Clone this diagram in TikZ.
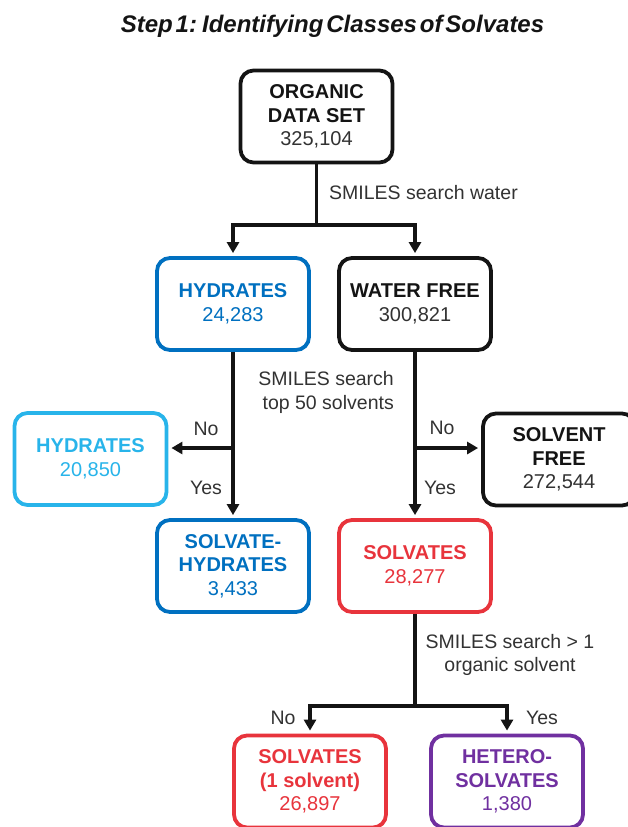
\documentclass[tikz,border=0pt]{standalone}
\usepackage{fontspec}
\setmainfont{Liberation Sans}
\usetikzlibrary{arrows.meta}
\definecolor{blueD}{RGB}{0,112,192}
\definecolor{blueL}{RGB}{40,180,234}
\definecolor{redC}{RGB}{232,52,60}
\definecolor{purp}{RGB}{112,48,160}
\definecolor{inkC}{RGB}{20,20,20}
\definecolor{numC}{RGB}{50,50,50}
\begin{document}
\begin{tikzpicture}[x=1pt,y=-1pt,
  box/.style={draw, rounded corners=13pt, line width=3.8pt, fill=white,
    minimum width=152pt, minimum height=92pt, align=center, inner sep=0pt,
    font=\fontsize{20}{23.5}\selectfont},
  conn/.style={line width=3.6pt, draw=inkC},
  arr/.style={conn, shorten >=3pt, -{Triangle[length=11pt,width=12pt]}},
  lbl/.style={font=\fontsize{19.5}{23.5}\selectfont, text=numC, inner sep=0pt}]
\useasboundingbox (0,0) rectangle (628,827);
\clip (0,0) rectangle (628,827);

\node[font=\fontsize{24}{28}\selectfont\bfseries\itshape, text=inkC, anchor=base] (title) at (332.5,32)
  {{\spaceskip=.12em Step 1: Identifying Classes of Solvates}};

\node[box, draw=inkC] (org) at (316.5,116.5) {\textbf{\color{inkC}ORGANIC}\\\textbf{\color{inkC}DATA SET}\\\color{numC}325,104};
\node[box, draw=blueD, text=blueD] (hyd) at (233,304) {\textbf{HYDRATES}\\24,283};
\node[box, draw=inkC] (wf) at (415,304) {\textbf{\color{inkC}WATER FREE}\\\color{numC}300,821};
\node[box, draw=blueL, text=blueL] (hyd2) at (90.5,459) {\textbf{HYDRATES}\\20,850};
\node[box, draw=inkC] (sf) at (559,459.5) {\textbf{\color{inkC}SOLVENT}\\\textbf{\color{inkC}FREE}\\\color{numC}272,544};
\node[box, draw=blueD, text=blueD] (sh) at (233,566) {\textbf{SOLVATE-}\\\textbf{HYDRATES}\\3,433};
\node[box, draw=redC, text=redC] (solv) at (415,566) {\textbf{SOLVATES}\\28,277};
\node[box, draw=redC, text=redC] (s1) at (310,781.5) {\textbf{SOLVATES}\\\textbf{(1 solvent)}\\26,897};
\node[box, draw=purp, text=purp] (het) at (507,781.5) {\textbf{HETERO-}\\\textbf{SOLVATES}\\1,380};

\coordinate (j1) at (316.5,225);
\coordinate (j2) at (233,448);
\coordinate (j3) at (415,448);
\coordinate (j4) at (415,706);

\draw[conn] (org) -- (j1);
\draw[arr] (j1) -| (hyd);
\draw[arr] (j1) -| (wf);
\draw[arr] (hyd) -- (sh);
\draw[arr] (j2) -- (j2 -| hyd2.east);
\draw[arr] (wf) -- (solv);
\draw[arr] (j3) -- (j3 -| sf.west);
\draw[conn] (solv) -- (j4);
\draw[arr] (j4) -| (s1);
\draw[arr] (j4) -| (het);

\node[lbl, anchor=west] (l1) at (329,193) {SMILES search water};
\node[lbl, anchor=east, align=right] (l2) at (394,392.5) {SMILES search\\top 50 solvents};
\node[lbl] (no1) at (206,429) {No};
\node[lbl] (yes1) at (206,488) {Yes};
\node[lbl] (no2) at (442,428) {No};
\node[lbl] (yes2) at (440,488) {Yes};
\node[lbl, align=center] (l3) at (510,655) {SMILES search > 1\\organic solvent};
\node[lbl] (no3) at (283,718) {No};
\node[lbl] (yes3) at (542,718) {Yes};
\end{tikzpicture}
\end{document}
